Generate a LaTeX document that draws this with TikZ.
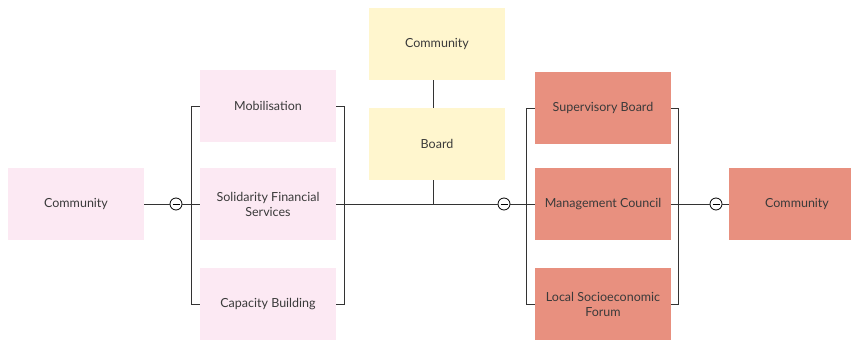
\documentclass[tikz,border=0pt]{standalone}
\usepackage{fontspec}
\setmainfont{Lato}
\usepackage{tikz}

\definecolor{pinkbox}{HTML}{FCE9F3}
\definecolor{yellowbox}{HTML}{FFF6CE}
\definecolor{redbox}{HTML}{E8907F}
\definecolor{txt}{HTML}{3A3A3A}
\definecolor{wire}{HTML}{333333}

\tikzset{
  box/.style={rectangle, minimum width=136pt, minimum height=72pt, align=center, text=txt, font=\fontsize{12.5}{15}\selectfont},
  minus/.style={circle, draw=black, fill=white, minimum size=12pt, inner sep=0pt,
    path picture={\draw ([xshift=2.5pt]path picture bounding box.west) -- ([xshift=-2.5pt]path picture bounding box.east);}},
}

\begin{document}
\begin{tikzpicture}[x=1pt, y=-1pt, line width=0.8pt, draw=wire]
        \useasboundingbox (0,0) rectangle (851,340);

        % members
        \node[box, fill=pinkbox] (comL) at (76,204) {Community};

        % services
        \node[box, fill=pinkbox] (mob) at (268,106) {Mobilisation};
        \node[box, fill=pinkbox] (sol) at (268,204) {Solidarity Financial\\Services};
        \node[box, fill=pinkbox] (cap) at (268,304) {Capacity Building};

        % governance
        \node[box, fill=yellowbox] (comT) at (437,44) {Community};
        \node[box, fill=yellowbox] (board) at (437,144) {Board};

        % management
        \node[box, fill=redbox] (sup) at (603,108) {Supervisory Board};
        \node[box, fill=redbox] (mgmt) at (603,204) {Management Council};
        \node[box, fill=redbox] (forum) at (603,304) {Local Socioeconomic\\Forum};

        \node[box, fill=redbox] (comR) at (797,204) {Community};

        % junctions
        \node[minus] (m1) at (176,204) {};
        \node[minus] (m2) at (504,204) {};
        \node[minus] (m3) at (716,204) {};

        \draw (comL) -- (m1) -- (sol);
        \draw (mob.west) -- ++(-8,0) |- (cap.west);
        \draw (mob.east) -- ++(8,0) |- (cap.east);
        \draw (sol) -- (m2) -- (mgmt);
        \draw ([xshift=-4pt]comT.south) -- ([xshift=-4pt]board.north);
        \draw ([xshift=-4pt]board.south) -- ([xshift=-4pt]board.south |- sol.east);
        \draw (sup.west) -- ++(-8,0) |- (forum.west);
        \draw (sup.east) -- ++(7,0) |- (forum.east);
        \draw (mgmt) -- (m3) -- (comR);
    \end{tikzpicture}
\end{document}
